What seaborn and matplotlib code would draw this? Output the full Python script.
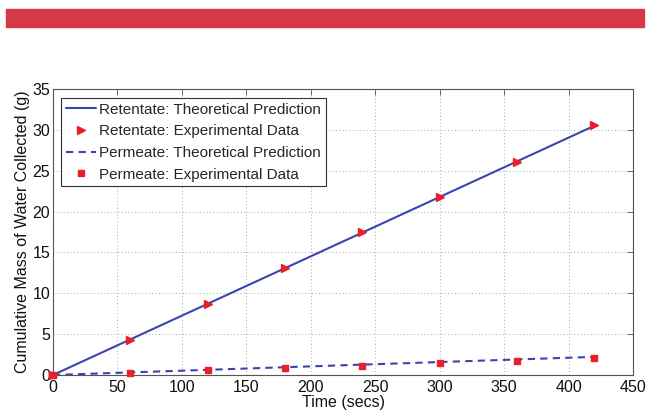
import matplotlib
matplotlib.use("Agg")
import matplotlib.pyplot as plt
import seaborn as sns
import pandas as pd
import numpy as np

# Data
time_exp = [0, 60, 120, 180, 240, 300, 360, 420]
retentate_exp = [0, 4.3, 8.7, 13.1, 17.5, 21.8, 26.1, 30.55]
permeate_exp = [0, 0.3, 0.57, 0.85, 1.14, 1.43, 1.76, 2.08]
time_theory = [0, 420]
retentate_theory = [0, 30.5]
permeate_theory = [0, 2.22]

x_ticks = [0, 50, 100, 150, 200, 250, 300, 350, 400, 450]
y_ticks = [0, 5, 10, 15, 20, 25, 30, 35]

sns.set_theme(style="white")
plt.rcParams['font.family'] = ['Liberation Sans', 'DejaVu Sans']

blue = "#3B44B0"
red = "#E8202A"
fs = 11.5

fig = plt.figure(figsize=(6.47, 4.11), dpi=100)
# red banner
fig.patches.append(matplotlib.patches.Rectangle((6/647, 1 - 27/411), 638/647, 18/411,
                   transform=fig.transFigure, color="#D63848", zorder=0))
ax = fig.add_axes([53/647, 1 - 375/411, 580/647, 286/411])

df_rt = pd.DataFrame({"t": time_theory, "m": retentate_theory})
df_pt = pd.DataFrame({"t": time_theory, "m": permeate_theory})
df_re = pd.DataFrame({"t": time_exp, "m": retentate_exp})
df_pe = pd.DataFrame({"t": time_exp, "m": permeate_exp})

sns.lineplot(data=df_rt, x="t", y="m", ax=ax, color=blue, lw=1.5,
             label="Retentate: Theoretical Prediction")
ax.plot(df_re["t"], df_re["m"], ls="none", marker=">", color=red, ms=5.5,
        mec=red, label="Retentate: Experimental Data", clip_on=False, zorder=5)
sns.lineplot(data=df_pt, x="t", y="m", ax=ax, color=blue, lw=1.5,
             label="Permeate: Theoretical Prediction")
ax.lines[-1].set_dashes([3.5, 2.5])
ax.plot(df_pe["t"], df_pe["m"], ls="none", marker="s", color=red, ms=4,
        mec=red, label="Permeate: Experimental Data", clip_on=False, zorder=5)

ax.set_xlim(0, 450)
ax.set_ylim(0, 35)
ax.set_xticks(x_ticks)
ax.set_yticks(y_ticks)
ax.grid(True, ls=(0, (1, 2.5)), color="#a8a8a8", lw=0.7)
ax.tick_params(direction="in", top=True, right=True, length=4, width=0.6,
               color="#555555", labelsize=fs, labelcolor="#111111")
ax.tick_params(axis="x", pad=3.5)
ax.tick_params(axis="y", pad=2)
for s in ax.spines.values():
    s.set_color("#555555")
    s.set_linewidth(0.8)
ax.set_xlabel("Time (secs)", fontsize=fs, labelpad=0, color="#111111")
ax.set_ylabel("Cumulative Mass of Water Collected (g)", fontsize=fs, labelpad=2, color="#111111")

leg = ax.legend(loc="upper left", bbox_to_anchor=(0.0138, 0.968), fontsize=11,
                frameon=True, fancybox=False, edgecolor="#333333", framealpha=1,
                borderaxespad=0, handlelength=2.0, handletextpad=0.2,
                labelspacing=0.5, borderpad=0.3)
leg.get_frame().set_linewidth(0.8)

fig.savefig("out.png", dpi=100, facecolor="white")
